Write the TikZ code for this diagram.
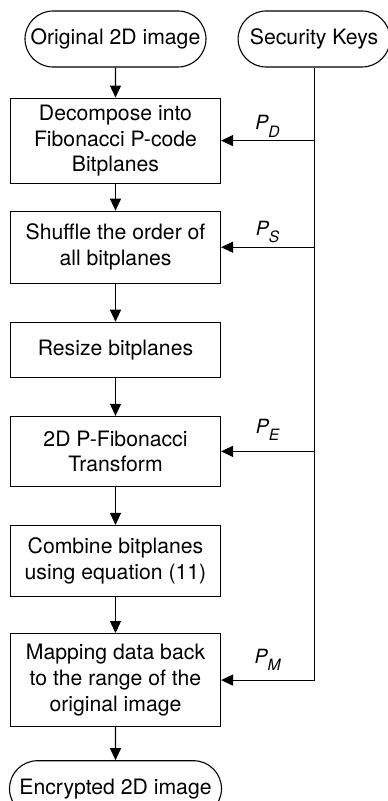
\documentclass[tikz,border=0pt]{standalone}
\usepackage{fontspec}
\setmainfont{TeX Gyre Heros}
\usetikzlibrary{positioning,shapes.misc,arrows.meta}

\tikzset{
  term/.style={rounded rectangle, draw, inner sep=0pt, minimum height=28pt},
  proc/.style={rectangle, draw, align=center, minimum width=105pt, inner sep=0pt},
  flow/.style={-{Triangle[length=6pt,width=5.5pt]}},
  keylbl/.style={font=\fontsize{9.8}{11}\selectfont\itshape, inner sep=0pt},
}
\newcommand{\keyname}[1]{P\raisebox{-3.6pt}{\fontsize{7.8}{8}\selectfont #1}}

\begin{document}
\begin{tikzpicture}[font=\fontsize{10.6}{12.85}\selectfont, line width=0.55pt]
  \useasboundingbox (-57.75pt,19.5pt) rectangle (135.75pt,-381pt);

  \node[term, minimum width=90.5pt] (orig) at (0,0) {Original 2D image};
  \node[term, minimum width=76pt, right=15.5pt of orig] (keys) {Security Keys};
  \node[proc, minimum height=42.5pt, below=15pt of orig] (dec)
    {Decompose into\\Fibonacci P-code\\Bitplanes};
  \node[proc, minimum height=36pt, below=13.5pt of dec] (shuf)
    {Shuffle the order of\\all bitplanes};
  \node[proc, minimum height=27.5pt, below=19pt of shuf] (resize)
    {Resize bitplanes};
  \node[proc, minimum height=35pt, below=19pt of resize] (pfib)
    {2D P-Fibonacci\\Transform};
  \node[proc, minimum height=35.5pt, below=19pt of pfib] (comb)
    {Combine bitplanes\\using equation (11)};
  \node[proc, minimum height=46.5pt, below=18pt of comb] (map)
    {Mapping data back\\to the range of the\\original image};
  \node[term, minimum width=106pt, below=16.5pt of map] (enc) {Encrypted 2D image};

  % main flow
  \draw[flow] (orig) -- (dec);
  \draw[flow] (dec) -- (shuf);
  \draw[flow] (shuf) -- (resize);
  \draw[flow] (resize) -- (pfib);
  \draw[flow] (pfib) -- (comb);
  \draw[flow] (comb) -- (map);
  \draw[flow] (map) -- (enc);

  % key parameters
  \draw[flow] (keys.south) |- (map.east)
    node[keylbl, pos=0.75, above=4.5pt] {\keyname{M}};
  \draw[flow] (keys.south |- dec.east) -- (dec.east)
    node[keylbl, midway, above=1.5pt] {\keyname{D}};
  \draw[flow] (keys.south |- shuf.east) -- (shuf.east)
    node[keylbl, midway, above=2pt] {\keyname{S}};
  \draw[flow] (keys.south |- pfib.east) -- (pfib.east)
    node[keylbl, midway, above=5pt] {\keyname{E}};
\end{tikzpicture}
\end{document}
